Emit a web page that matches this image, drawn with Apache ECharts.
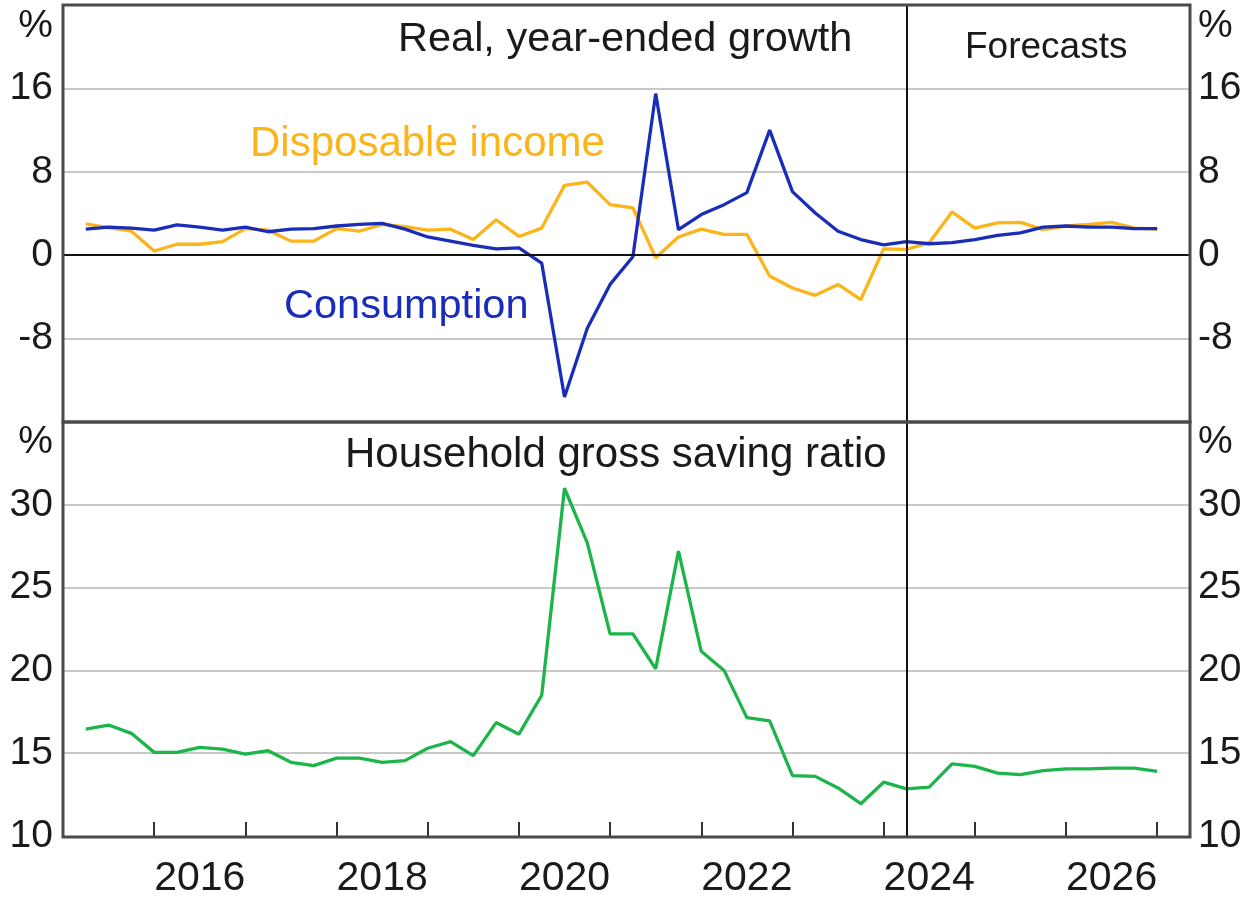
<!DOCTYPE html>
<html>
<head>
<meta charset="utf-8">
<script src="https://cdn.jsdelivr.net/npm/echarts@6/dist/echarts.min.js"></script>
<style>
html,body{margin:0;padding:0;background:#fff;}
#chart{width:1246px;height:899px;}
</style>
</head>
<body>
<div id="chart"></div>
<script>
const quarters = [
  '2015-Q1','2015-Q2','2015-Q3','2015-Q4','2016-Q1','2016-Q2','2016-Q3','2016-Q4',
  '2017-Q1','2017-Q2','2017-Q3','2017-Q4','2018-Q1','2018-Q2','2018-Q3','2018-Q4',
  '2019-Q1','2019-Q2','2019-Q3','2019-Q4','2020-Q1','2020-Q2','2020-Q3','2020-Q4',
  '2021-Q1','2021-Q2','2021-Q3','2021-Q4','2022-Q1','2022-Q2','2022-Q3','2022-Q4',
  '2023-Q1','2023-Q2','2023-Q3','2023-Q4','2024-Q1','2024-Q2','2024-Q3','2024-Q4',
  '2025-Q1','2025-Q2','2025-Q3','2025-Q4','2026-Q1','2026-Q2','2026-Q3','2026-Q4'
];
const disposableIncome = [3.0, 2.65, 2.3, 0.4, 1.05, 1.05, 1.3, 2.55, 2.4, 1.35, 1.35, 2.55,
  2.3, 2.95, 2.75, 2.4, 2.5, 1.5, 3.4, 1.8, 2.6, 6.7, 7.0, 4.85,
  4.55, -0.25, 1.75, 2.5, 2.0, 2.0, -2.0, -3.15, -3.85, -2.8, -4.25, 0.6,
  0.55, 1.2, 4.15, 2.6, 3.1, 3.15, 2.45, 2.8, 2.95, 3.15, 2.6, 2.5];
const consumption = [2.5, 2.7, 2.6, 2.4, 2.9, 2.7, 2.4, 2.7, 2.25, 2.5, 2.55, 2.8,
  2.95, 3.05, 2.5, 1.75, 1.35, 0.95, 0.6, 0.7, -0.75, -13.6, -7.0, -2.8,
  -0.15, 15.5, 2.45, 3.9, 4.85, 6.0, 12.0, 6.1, 4.05, 2.3, 1.5, 1.0,
  1.3, 1.1, 1.2, 1.5, 1.9, 2.15, 2.7, 2.8, 2.7, 2.7, 2.55, 2.55];
const savingRatio = [16.45, 16.7, 16.2, 15.05, 15.05, 15.35, 15.25, 14.95, 15.15, 14.45, 14.25, 14.7,
  14.7, 14.45, 14.55, 15.3, 15.7, 14.85, 16.85, 16.15, 18.5, 31.0, 27.7, 22.2,
  22.2, 20.1, 27.2, 21.15, 20.0, 17.15, 16.95, 13.65, 13.6, 12.9, 11.95, 13.25,
  12.85, 12.95, 14.35, 14.2, 13.8, 13.7, 13.95, 14.05, 14.05, 14.1, 14.1, 13.9];
const growthTicks = [-8, 0, 8, 16];
const savingTicks = [10, 15, 20, 25, 30];
const yearLabels = [2016, 2018, 2020, 2022, 2024, 2026];
const forecastStart = '2024-Q1';

function qToX(q) { const p = q.split('-Q'); return +p[0] + (+p[1]) * 0.25; }
function pairs(vals) { return quarters.map((q, i) => [qToX(q), vals[i]]); }

const FONT = '"Liberation Sans", Arial, sans-serif';
const TXT = '#1a1a1a';
const XMIN = 2015, XMAX = 2027.36;
const L = 63, R = 1190, T = 5, MID = 422, B = 837;

const chart = echarts.init(document.getElementById('chart'), null, {renderer: 'canvas'});

const yLab = (ticks) => ({
  fontSize: 39, color: TXT, fontFamily: FONT,
  formatter: v => ticks.indexOf(v) >= 0 ? String(v) : ''
});
const split = {show: true, lineStyle: {color: '#c8c8c8', width: 2}};
const fc = qToX(forecastStart);
const vline = {
  silent: true, symbol: 'none', label: {show: false},
  lineStyle: {color: '#111', width: 2, type: 'solid'},
  data: [{xAxis: fc}]
};

const option = {
  animation: false,
  backgroundColor: '#fff',
  grid: [
    {left: L, top: T, width: R - L, height: MID - T},
    {left: L, top: MID, width: R - L, height: B - MID}
  ],
  xAxis: [
    {type: 'value', gridIndex: 0, min: XMIN, max: XMAX, show: true,
     axisLine: {show: false}, axisTick: {show: false}, axisLabel: {show: false}, splitLine: {show: false}},
    {type: 'value', gridIndex: 1, min: XMIN, max: XMAX, interval: 1,
     axisLine: {show: false}, axisTick: {show: true, inside: true, length: 14, lineStyle: {color: '#333', width: 2}},
     axisLabel: {show: false}, splitLine: {show: false}},
    {type: 'value', gridIndex: 1, min: XMIN, max: XMAX, interval: 0.5, position: 'bottom',
     axisLine: {show: false}, axisTick: {show: false}, splitLine: {show: false},
     axisLabel: {show: true, fontSize: 41, color: TXT, fontFamily: FONT, margin: 22,
       showMinLabel: true, showMaxLabel: true,
       formatter: v => { const y = Math.round(v - 0.5); return (Math.abs(v - 0.5 - y) < 1e-6 && yearLabels.indexOf(y) >= 0) ? String(y) : ''; }}}
  ],
  yAxis: [
    {type: 'value', gridIndex: 0, min: -16, max: 24, interval: 8, position: 'left',
     axisLine: {show: false}, axisTick: {show: false}, axisLabel: Object.assign(yLab(growthTicks), {margin: 10}),
     splitLine: Object.assign({showMinLine: false, showMaxLine: false}, split)},
    {type: 'value', gridIndex: 0, min: -16, max: 24, interval: 8, position: 'right',
     axisLine: {show: false}, axisTick: {show: false}, axisLabel: Object.assign(yLab(growthTicks), {margin: 8}),
     splitLine: {show: false}},
    {type: 'value', gridIndex: 1, min: 10, max: 35, interval: 5, position: 'left',
     axisLine: {show: false}, axisTick: {show: false}, axisLabel: Object.assign(yLab(savingTicks), {margin: 10}),
     splitLine: Object.assign({showMinLine: false, showMaxLine: false}, split)},
    {type: 'value', gridIndex: 1, min: 10, max: 35, interval: 5, position: 'right',
     axisLine: {show: false}, axisTick: {show: false}, axisLabel: Object.assign(yLab(savingTicks), {margin: 8}),
     splitLine: {show: false}}
  ],
  series: [
    {name: 'Disposable income', type: 'line', xAxisIndex: 0, yAxisIndex: 0, data: pairs(disposableIncome),
     showSymbol: false, symbol: 'none', lineStyle: {color: '#fbb41a', width: 3.3}, z: 3,
     markLine: {silent: true, symbol: 'none', label: {show: false},
       lineStyle: {color: '#111', width: 2, type: 'solid'}, data: [{yAxis: 0}]}},
    {name: 'Consumption', type: 'line', xAxisIndex: 0, yAxisIndex: 0, data: pairs(consumption),
     showSymbol: false, symbol: 'none', lineStyle: {color: '#1a2db8', width: 3.3}, z: 4,
     markLine: vline},
    {name: 'Household gross saving ratio', type: 'line', xAxisIndex: 1, yAxisIndex: 2, data: pairs(savingRatio),
     showSymbol: false, symbol: 'none', lineStyle: {color: '#1db54a', width: 3.3}, z: 3,
     markLine: vline}
  ],
  graphic: [
    {type: 'rect', shape: {x: L, y: T, width: R - L, height: MID - T}, style: {fill: null, stroke: '#4a4a4a', lineWidth: 3}, z: 100, silent: true},
    {type: 'rect', shape: {x: L, y: MID, width: R - L, height: B - MID}, style: {fill: null, stroke: '#4a4a4a', lineWidth: 3}, z: 100, silent: true},
    {type: 'text', x: 53, y: 26, style: {text: '%', font: '39px ' + FONT, fill: TXT, align: 'right', verticalAlign: 'middle'}, z: 100},
    {type: 'text', x: 1198, y: 26, style: {text: '%', font: '39px ' + FONT, fill: TXT, align: 'left', verticalAlign: 'middle'}, z: 100},
    {type: 'text', x: 53, y: 442, style: {text: '%', font: '39px ' + FONT, fill: TXT, align: 'right', verticalAlign: 'middle'}, z: 100},
    {type: 'text', x: 1198, y: 442, style: {text: '%', font: '39px ' + FONT, fill: TXT, align: 'left', verticalAlign: 'middle'}, z: 100},
    {type: 'text', x: 398, y: 40, style: {text: 'Real, year-ended growth', font: '41.5px ' + FONT, fill: TXT, align: 'left', verticalAlign: 'middle'}, z: 100},
    {type: 'text', x: 965, y: 48, style: {text: 'Forecasts', font: '37px ' + FONT, fill: TXT, align: 'left', verticalAlign: 'middle'}, z: 100},
    {type: 'text', x: 250, y: 144, style: {text: 'Disposable income', font: '42px ' + FONT, fill: '#fbb41a', align: 'left', verticalAlign: 'middle'}, z: 100},
    {type: 'text', x: 284, y: 307, style: {text: 'Consumption', font: '41.5px ' + FONT, fill: '#1a2db8', align: 'left', verticalAlign: 'middle'}, z: 100},
    {type: 'text', x: 345, y: 455, style: {text: 'Household gross saving ratio', font: '42px ' + FONT, fill: TXT, align: 'left', verticalAlign: 'middle'}, z: 100}
  ]
};
chart.setOption(option);
</script>
</body>
</html>
